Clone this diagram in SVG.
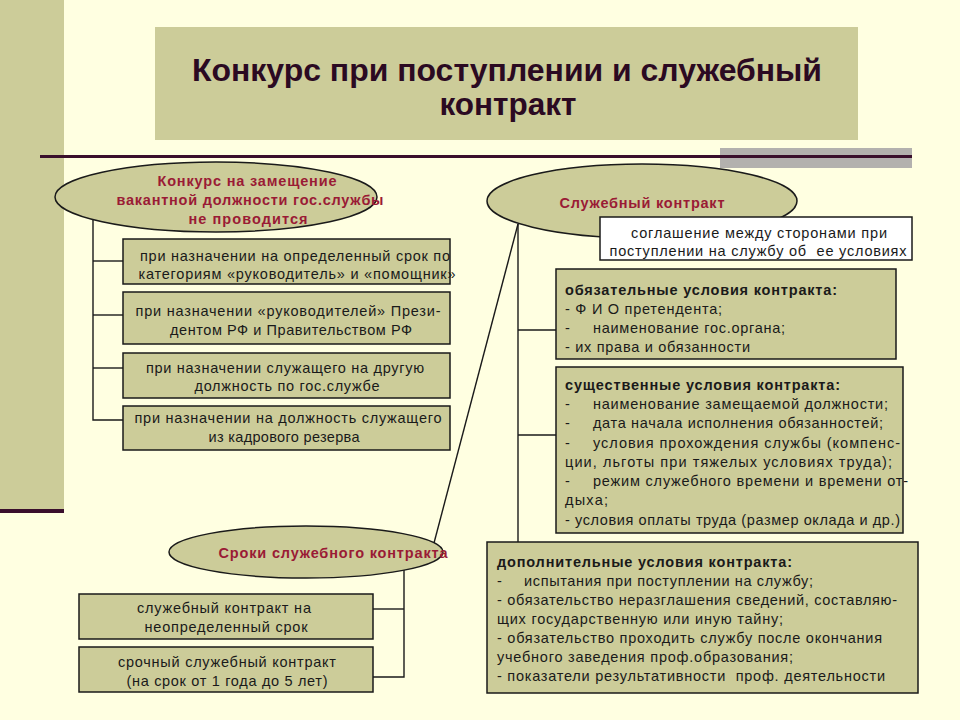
<svg xmlns="http://www.w3.org/2000/svg" width="960" height="720" viewBox="0 0 960 720">
<style>
.bg{fill:#FFFFE1}
.olive{fill:#CCCC99}
.box{fill:#CCCC99;stroke:#1a1a1a;stroke-width:1.5}
.wbox{fill:#FFFFFF;stroke:#1a1a1a;stroke-width:1.5}
.ell{fill:#CCCC99;stroke:#1a1a1a;stroke-width:1.5}
.con{fill:none;stroke:#1a1a1a;stroke-width:1.4}
.t{font-family:"Liberation Sans",Arial,sans-serif;font-size:14.5px;fill:#1a1a1a;white-space:pre}
.c{text-anchor:middle}
.b{font-weight:bold}
.et{font-family:"Liberation Sans",Arial,sans-serif;font-size:14.5px;font-weight:bold;fill:#9A1B35;text-anchor:middle}
.title{font-family:"Liberation Sans Narrow","Liberation Sans",Arial,sans-serif;font-size:31px;font-weight:bold;fill:#2B0A22;text-anchor:middle}
</style>
<rect class="bg" x="0" y="0" width="960" height="720"/>
<g id="decor">
<rect class="olive" x="0" y="0" width="64" height="509"/>
<rect x="0" y="509" width="64" height="4" fill="#3A0F2C"/>
<rect x="720" y="148" width="192" height="20" fill="#B3B1AE"/>
<rect x="40" y="155" width="872" height="3" fill="#3A0F2C"/>
</g>
<g id="title">
<rect class="olive" x="155" y="27" width="703" height="113"/>
<text class="title" x="507" y="81" textLength="630" lengthAdjust="spacingAndGlyphs">Конкурс при поступлении и служебный</text>
<text class="title" x="508" y="115" textLength="137" lengthAdjust="spacingAndGlyphs">контракт</text>
</g>
<g id="connectors">
<polyline class="con" points="93,220 93,420 123,420"/>
<line class="con" x1="93" y1="261" x2="123" y2="261"/>
<line class="con" x1="93" y1="315" x2="123" y2="315"/>
<line class="con" x1="93" y1="368" x2="123" y2="368"/>
<line class="con" x1="518" y1="224" x2="518" y2="542"/>
<line class="con" x1="518" y1="330" x2="556" y2="330"/>
<line class="con" x1="518" y1="435" x2="556" y2="435"/>
<line class="con" x1="518" y1="224" x2="434" y2="543"/>
<polyline class="con" points="404,570 404,677 373,677"/>
<line class="con" x1="404" y1="609" x2="373" y2="609"/>
</g>
<g id="ell-konkurs">
<ellipse class="ell" cx="216" cy="197" rx="161" ry="35"/>
<text class="et" x="247" y="186" textLength="179" lengthAdjust="spacing">Конкурс на замещение</text>
<text class="et" x="250" y="205" textLength="267" lengthAdjust="spacing">вакантной должности гос.службы</text>
<text class="et" x="248" y="224" textLength="119" lengthAdjust="spacing">не проводится</text>
</g>
<g id="box-l1">
<rect class="box" x="123" y="239" width="327" height="45"/>
<text class="t c" x="295" y="261" textLength="310" lengthAdjust="spacing">при назначении на определенный срок по</text>
<text class="t c" x="297" y="279" textLength="317" lengthAdjust="spacing">категориям «руководитель» и «помощник»</text>
</g>
<g id="box-l2">
<rect class="box" x="123" y="292" width="327" height="52"/>
<text class="t c" x="288" y="316" textLength="305" lengthAdjust="spacing">при назначении «руководителей» Прези-</text>
<text class="t c" x="291" y="335" textLength="242" lengthAdjust="spacing">дентом РФ и Правительством РФ</text>
</g>
<g id="box-l3">
<rect class="box" x="123" y="353" width="327" height="45"/>
<text class="t c" x="285" y="373" textLength="278" lengthAdjust="spacing">при назначении служащего на другую</text>
<text class="t c" x="287" y="391" textLength="185" lengthAdjust="spacing">должность по гос.службе</text>
</g>
<g id="box-l4">
<rect class="box" x="123" y="406" width="327" height="44"/>
<text class="t c" x="288" y="423" textLength="307" lengthAdjust="spacing">при назначении на должность служащего</text>
<text class="t c" x="284" y="442" textLength="151" lengthAdjust="spacing">из кадрового резерва</text>
</g>
<g id="ell-contract">
<ellipse class="ell" cx="642" cy="201" rx="155" ry="37"/>
<text class="et" x="642" y="208" textLength="165" lengthAdjust="spacing">Служебный контракт</text>
</g>
<g id="box-def">
<rect class="wbox" x="600" y="217" width="312" height="43"/>
<text class="t c" x="759" y="238" textLength="256" lengthAdjust="spacing">соглашение между сторонами при</text>
<text class="t c" x="758" y="256" textLength="297" lengthAdjust="spacing">поступлении на службу об  ее условиях</text>
</g>
<g id="box-oblig">
<rect class="box" x="556" y="269" width="340" height="90"/>
<text class="t b" x="565" y="295" textLength="272" lengthAdjust="spacing">обязательные условия контракта:</text>
<text class="t" x="565" y="314" textLength="157" lengthAdjust="spacing">- Ф И О претендента;</text>
<text class="t" x="565" y="333">-</text>
<text class="t" x="593" y="333" textLength="192" lengthAdjust="spacing">наименование гос.органа;</text>
<text class="t" x="565" y="352" textLength="185" lengthAdjust="spacing">- их права и обязанности</text>
</g>
<g id="box-essential">
<rect class="box" x="556" y="367" width="347" height="166"/>
<text class="t b" x="565" y="390" textLength="275" lengthAdjust="spacing">существенные условия контракта:</text>
<text class="t" x="565" y="409">-</text>
<text class="t" x="593" y="409" textLength="295" lengthAdjust="spacing">наименование замещаемой должности;</text>
<text class="t" x="565" y="428">-</text>
<text class="t" x="593" y="428" textLength="290" lengthAdjust="spacing">дата начала исполнения обязанностей;</text>
<text class="t" x="565" y="448">-</text>
<text class="t" x="593" y="448" textLength="307" lengthAdjust="spacing">условия прохождения службы (компенс-</text>
<text class="t" x="565" y="467" textLength="327" lengthAdjust="spacing">ции, льготы при тяжелых условиях труда);</text>
<text class="t" x="565" y="486">-</text>
<text class="t" x="593" y="486" textLength="315" lengthAdjust="spacing">режим служебного времени и времени от-</text>
<text class="t" x="565" y="505" textLength="43" lengthAdjust="spacing">дыха;</text>
<text class="t" x="565" y="525" textLength="335" lengthAdjust="spacing">- условия оплаты труда (размер оклада и др.)</text>
</g>
<g id="box-additional">
<rect class="box" x="487" y="542" width="431" height="151"/>
<text class="t b" x="497" y="567" textLength="295" lengthAdjust="spacing">дополнительные условия контракта:</text>
<text class="t" x="497" y="586">-</text>
<text class="t" x="524" y="586" textLength="289" lengthAdjust="spacing">испытания при поступлении на службу;</text>
<text class="t" x="497" y="605" textLength="400" lengthAdjust="spacing">- обязательство неразглашения сведений, составляю-</text>
<text class="t" x="497" y="624" textLength="286" lengthAdjust="spacing">щих государственную или иную тайну;</text>
<text class="t" x="497" y="643" textLength="385" lengthAdjust="spacing">- обязательство проходить службу после окончания</text>
<text class="t" x="497" y="662" textLength="296" lengthAdjust="spacing">учебного заведения проф.образования;</text>
<text class="t" x="497" y="681" textLength="388" lengthAdjust="spacing">- показатели результативности  проф. деятельности</text>
</g>
<g id="ell-terms">
<ellipse class="ell" cx="306" cy="552" rx="137" ry="26"/>
<text class="et" x="333" y="558" textLength="229" lengthAdjust="spacing">Сроки служебного контракта</text>
</g>
<g id="box-indef">
<rect class="box" x="79" y="594" width="294" height="45"/>
<text class="t c" x="224" y="613" textLength="174" lengthAdjust="spacing">служебный контракт на</text>
<text class="t c" x="226" y="632" textLength="163" lengthAdjust="spacing">неопределенный срок</text>
</g>
<g id="box-fixed">
<rect class="box" x="79" y="647" width="294" height="45"/>
<text class="t c" x="227" y="667" textLength="218" lengthAdjust="spacing">срочный служебный контракт</text>
<text class="t c" x="227" y="686" textLength="201" lengthAdjust="spacing">(на срок от 1 года до 5 лет)</text>
</g>
</svg>
